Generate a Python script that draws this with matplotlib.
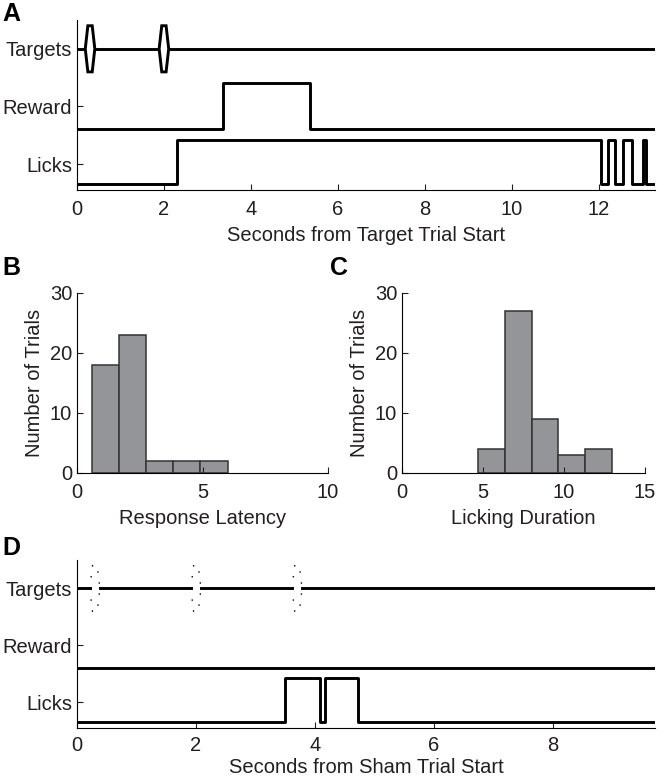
import numpy as np
import matplotlib
matplotlib.use("Agg")
import matplotlib.pyplot as plt

plt.rcParams["font.family"] = ["Liberation Sans", "DejaVu Sans"]
plt.rcParams["font.size"] = 14.5
plt.rcParams["text.color"] = "#231f20"
plt.rcParams["axes.labelcolor"] = "#231f20"
plt.rcParams["xtick.color"] = "#231f20"
plt.rcParams["ytick.color"] = "#231f20"

# --- dane ---
# A: proba z celem
targets_a = [0.3, 2.0]
reward_a_t = [0, 3.35, 5.35, 13.3]
reward_a_s = [0, 1, 0, 0]
licks_a_t = [0, 2.3, 12.05, 12.23, 12.39, 12.56, 12.78, 13.03, 13.09, 13.3]
licks_a_s = [0, 1, 0, 1, 0, 1, 0, 1, 0, 0]

# B: latencja odpowiedzi
lat_edges = [0.6, 1.68, 2.76, 3.84, 4.92, 6.0]
lat_counts = [18, 23, 2, 2, 2]

# C: czas lizania
dur_edges = [4.7, 6.35, 8.0, 9.65, 11.3, 12.95]
dur_counts = [4, 27, 9, 3, 4]

# D: proba pozorna
targets_d = [0.3, 2.0, 3.7]
reward_d_t = [0, 9.72]
reward_d_s = [0, 0]
licks_d_t = [0, 3.5, 4.09, 4.17, 4.72, 9.72]
licks_d_s = [0, 1, 0, 1, 0, 0]

row_names = ["Licks", "Reward", "Targets"]

LW = 2.1
lick_base, lick_amp = 0.66, 0.76
rew_base, rew_amp = 1.61, 0.8
tgt_y = 3.0
dy = 0.4


def diamond(x0, dx_mid, dx_top):
    xs = [x0 - dx_mid, x0 - dx_top, x0 + dx_top, x0 + dx_mid, x0 + dx_top, x0 - dx_top, x0 - dx_mid]
    ys = [tgt_y, tgt_y + dy, tgt_y + dy, tgt_y, tgt_y - dy, tgt_y - dy, tgt_y]
    return xs, ys


def clean_axes(ax, xpad=7):
    for s in ["top", "right"]:
        ax.spines[s].set_visible(False)
    for s in ["left", "bottom"]:
        ax.spines[s].set_linewidth(0.8)
    ax.tick_params(direction="in", length=4, width=0.8)
    ax.tick_params(axis="x", pad=xpad)


def style_trace_axes(ax, xmax, xticks, xlabel, xpad=7, lpad=5.5):
    ax.set_xlim(0, xmax)
    ax.set_ylim(0.55, 3.5)
    ax.set_yticks([1, 2, 3])
    ax.set_yticklabels(row_names)
    ax.set_xticks(xticks)
    ax.set_xlabel(xlabel, labelpad=lpad)
    clean_axes(ax, xpad)


fig = plt.figure(figsize=(6.61, 7.81), dpi=100)

# --- A ---
axA = fig.add_axes([77 / 661, 1 - 190 / 781, 578 / 661, 170 / 781])
axA.plot([0, 13.3], [tgt_y, tgt_y], color="black", lw=LW)
for t in targets_a:
    xs, ys = diamond(t, 0.11, 0.05)
    axA.fill(xs, ys, facecolor="white", edgecolor="black", lw=LW, zorder=3)
axA.step(reward_a_t, rew_base + rew_amp * np.array(reward_a_s), where="post", color="black", lw=LW)
axA.step(licks_a_t, lick_base + lick_amp * np.array(licks_a_s), where="post", color="black", lw=LW)
style_trace_axes(axA, 13.3, range(0, 13, 2), "Seconds from Target Trial Start")

# --- B ---
axB = fig.add_axes([77 / 661, 1 - 473 / 781, 251 / 661, 180 / 781])
axB.bar(lat_edges[:-1], lat_counts, width=np.diff(lat_edges), align="edge",
        color="#939598", edgecolor="#333333", lw=1.1)
axB.set_xlim(0, 10)
axB.set_ylim(0, 30)
axB.set_xticks([0, 5, 10])
axB.set_yticks([0, 10, 20, 30])
axB.set_xlabel("Response Latency", labelpad=5)
axB.set_ylabel("Number of Trials", labelpad=4)
clean_axes(axB)

# --- C ---
axC = fig.add_axes([402 / 661, 1 - 473 / 781, 243 / 661, 180 / 781])
axC.bar(dur_edges[:-1], dur_counts, width=np.diff(dur_edges), align="edge",
        color="#939598", edgecolor="#333333", lw=1.1)
axC.set_xlim(0, 15)
axC.set_ylim(0, 30)
axC.set_xticks([0, 5, 10, 15])
axC.set_yticks([0, 10, 20, 30])
axC.set_xlabel("Licking Duration", labelpad=5)
axC.set_ylabel("Number of Trials", labelpad=4)
clean_axes(axC)

# --- D ---
axD = fig.add_axes([77 / 661, 1 - 728 / 781, 578 / 661, 168 / 781])
gap = 0.08
gap_starts = [0] + [t + gap for t in targets_d]
gap_ends = [t - gap for t in targets_d] + [9.72]
for a, b in zip(gap_starts, gap_ends):
    axD.plot([a, b], [tgt_y, tgt_y], color="black", lw=LW)
for t in targets_d:
    xs, ys = diamond(t, 0.085, 0.04)
    axD.plot(xs, ys, color="black", lw=1.0, linestyle=(0, (1, 7)))
axD.step(reward_d_t, rew_base + rew_amp * np.array(reward_d_s), where="post", color="black", lw=LW)
axD.step(licks_d_t, lick_base + lick_amp * np.array(licks_d_s), where="post", color="black", lw=LW)
style_trace_axes(axD, 9.72, range(0, 9, 2), "Seconds from Sham Trial Start", xpad=6, lpad=2)

# etykiety paneli
for lab, x, y in [("A", 2, 2), ("B", 2, 256), ("C", 330, 256), ("D", 2, 536)]:
    fig.text(x / 661, 1 - y / 781, lab, fontsize=18, fontweight="bold", va="top", ha="left",
             color="black")

fig.savefig("out.png", dpi=100)
